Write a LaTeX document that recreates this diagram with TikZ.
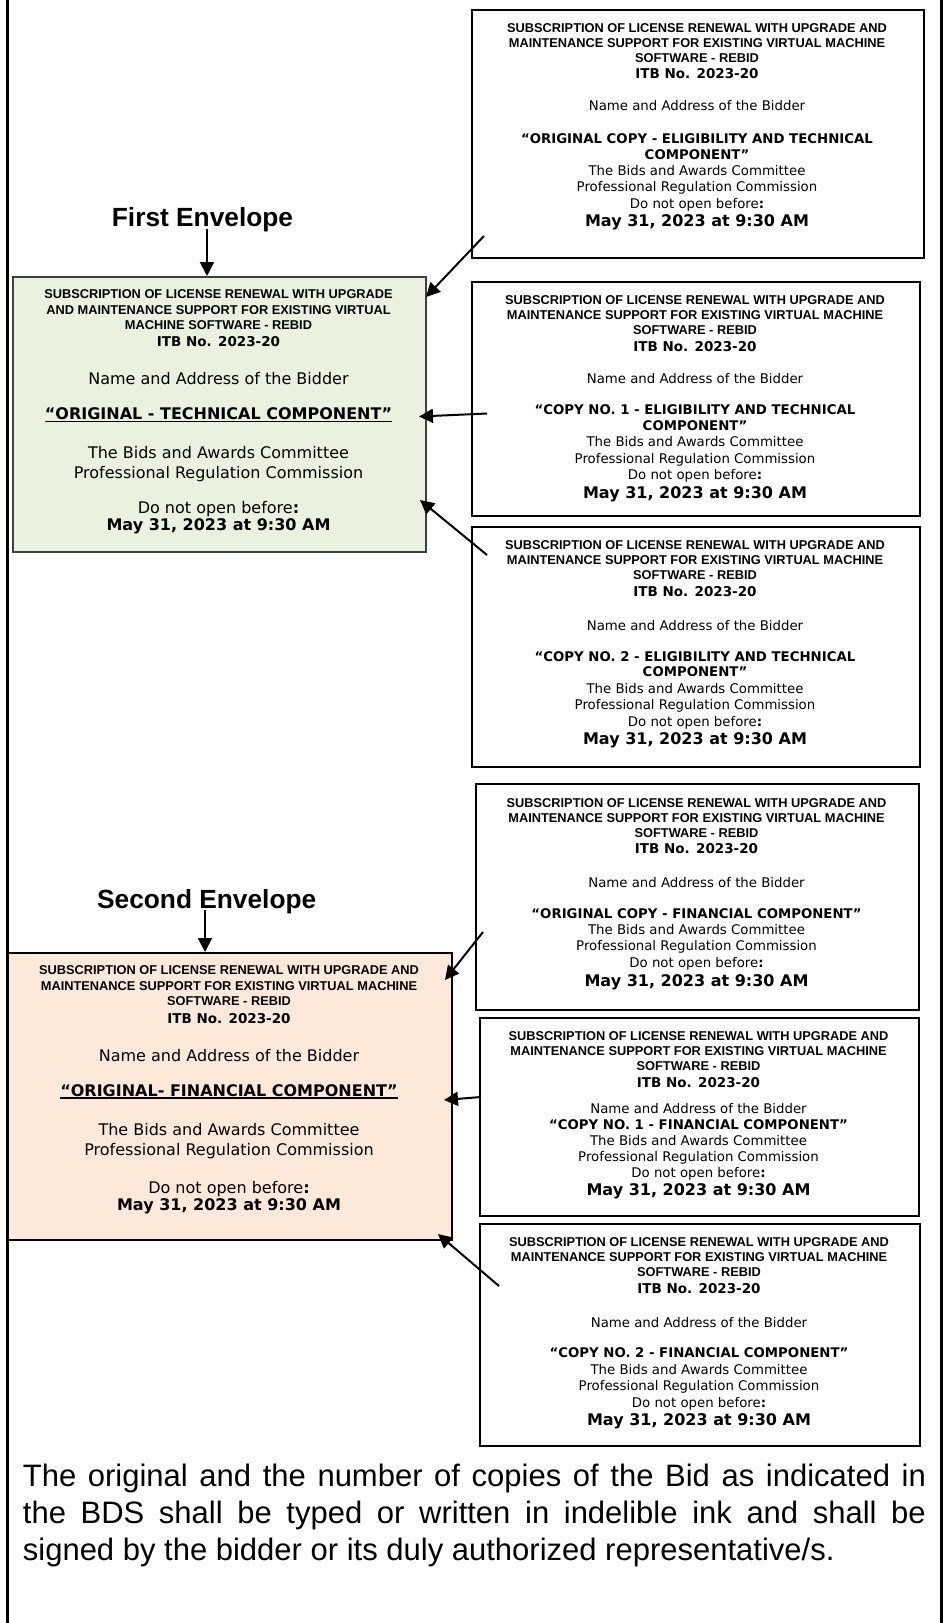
\documentclass[tikz,border=0pt]{standalone}
\usepackage{fontspec}
\setmainfont{DejaVu Sans}
\newfontfamily\arialf{Liberation Sans}
\newfontfamily\verd{DejaVu Sans}
\usetikzlibrary{arrows.meta}
\definecolor{gfill}{HTML}{EBF1DE}
\definecolor{ofill}{HTML}{FDE9D9}
\definecolor{gborder}{HTML}{3F3F3F}
\newsavebox\ulbox
\newcommand\HL[2]{{\arialf\bfseries\fontsize{12.8}{#1}\selectfont #2\par}}
\newcommand\BL[3]{{\verd\bfseries\fontsize{#1}{#2}\selectfont #3\par}}
\newcommand\RL[3]{{\verd\fontsize{#1}{#2}\selectfont #3\par}}
\newcommand\boxtext[2]{\parbox[t]{#1}{\centering\lineskiplimit=-100pt\lineskip=0pt\parskip=0pt #2}}
\newcommand\ulx[1]{\leavevmode\sbox\ulbox{#1}\rlap{\rule[-2.6pt]{\wd\ulbox}{1.4pt}}\usebox\ulbox}
\tikzset{
  rbox/.style={draw=black, line width=1.8pt, anchor=north west, inner sep=0pt},
  gbox/.style={draw=gborder, fill=gfill, line width=1.5pt, anchor=north west, inner sep=0pt},
  obox/.style={draw=black, fill=ofill, line width=2pt, anchor=north west, inner sep=0pt},
  tx/.style={inner sep=0pt, anchor=base},
  envlabel/.style={inner sep=0pt, anchor=base, font=\arialf\bfseries\fontsize{26.3}{30}\selectfont},
  arr/.style={-{Triangle[length=14pt,width=14pt]}, line width=2pt, black},
  frame/.style={line width=3pt, black}
}
\begin{document}
\begin{tikzpicture}[x=1pt,y=-1pt]
\useasboundingbox (0,0) rectangle (946,1623);
\fill[white] (0,0) rectangle (946,1623);

% right-hand boxes
\node[rbox, minimum width=452pt, minimum height=247.7pt] (r1) at (471,9.3) {};
\node[rbox, minimum width=448pt, minimum height=234pt] (r2) at (471,281) {};
\node[rbox, minimum width=448pt, minimum height=240pt] (r3) at (471,526) {};
\node[rbox, minimum width=443pt, minimum height=226pt] (r4) at (475,783.3) {};
\node[rbox, minimum width=439pt, minimum height=198pt] (r5) at (479,1017) {};
\node[rbox, minimum width=440pt, minimum height=222pt] (r6) at (479,1223) {};
% envelope boxes
\node[gbox, minimum width=413pt, minimum height=275pt] (g) at (12,276) {};
\node[obox, minimum width=444pt, minimum height=287pt] (o) at (7,952) {};

% texts of right boxes
\node[tx] (r1t) at (697,32.2) {\boxtext{440pt}{%
\HL{15}{SUBSCRIPTION OF LICENSE RENEWAL WITH UPGRADE AND}
\HL{15}{MAINTENANCE SUPPORT FOR EXISTING VIRTUAL MACHINE}
\HL{15}{SOFTWARE - REBID}
\BL{13.5}{16.7}{ITB No. 2023-20}
\RL{13.3}{32}{Name and Address of the Bidder}
\BL{13.3}{32.3}{“ORIGINAL COPY - ELIGIBILITY AND TECHNICAL}
\BL{13.3}{16.7}{COMPONENT”}
\RL{13.3}{16}{The Bids and Awards Committee}
\RL{13.3}{15.7}{Professional Regulation Commission}
\RL{13.3}{16.6}{Do not open before\textbf{:}}
\BL{16}{18.7}{May 31, 2023 at 9:30 AM}}};

\node[tx] (r2t) at (695,304.6) {\boxtext{440pt}{%
\HL{15}{SUBSCRIPTION OF LICENSE RENEWAL WITH UPGRADE AND}
\HL{15}{MAINTENANCE SUPPORT FOR EXISTING VIRTUAL MACHINE}
\HL{15}{SOFTWARE - REBID}
\BL{13.5}{16.8}{ITB No. 2023-20}
\RL{13.3}{32.3}{Name and Address of the Bidder}
\BL{13.3}{31.1}{“COPY NO. 1 - ELIGIBILITY AND TECHNICAL}
\BL{13.3}{15.5}{COMPONENT”}
\RL{13.3}{16.5}{The Bids and Awards Committee}
\RL{13.3}{16.6}{Professional Regulation Commission}
\RL{13.3}{16.5}{Do not open before\textbf{:}}
\BL{16}{18.7}{May 31, 2023 at 9:30 AM}}};

\node[tx] (r3t) at (695,549.6) {\boxtext{440pt}{%
\HL{15}{SUBSCRIPTION OF LICENSE RENEWAL WITH UPGRADE AND}
\HL{15}{MAINTENANCE SUPPORT FOR EXISTING VIRTUAL MACHINE}
\HL{15}{SOFTWARE - REBID}
\BL{13.5}{16.8}{ITB No. 2023-20}
\RL{13.3}{33.6}{Name and Address of the Bidder}
\BL{13.3}{31.1}{“COPY NO. 2 - ELIGIBILITY AND TECHNICAL}
\BL{13.3}{15.5}{COMPONENT”}
\RL{13.3}{16.6}{The Bids and Awards Committee}
\RL{13.3}{16.5}{Professional Regulation Commission}
\RL{13.3}{16.6}{Do not open before\textbf{:}}
\BL{16}{18.6}{May 31, 2023 at 9:30 AM}}};

\node[tx] (r4t) at (696.5,807.1) {\boxtext{440pt}{%
\HL{15}{SUBSCRIPTION OF LICENSE RENEWAL WITH UPGRADE AND}
\HL{15}{MAINTENANCE SUPPORT FOR EXISTING VIRTUAL MACHINE}
\HL{15}{SOFTWARE - REBID}
\BL{13.5}{16.8}{ITB No. 2023-20}
\RL{13.3}{33.3}{Name and Address of the Bidder}
\BL{13.3}{31.7}{“ORIGINAL COPY - FINANCIAL COMPONENT”}
\RL{13.3}{16}{The Bids and Awards Committee}
\RL{13.3}{16}{Professional Regulation Commission}
\RL{13.3}{16.7}{Do not open before\textbf{:}}
\BL{16}{19}{May 31, 2023 at 9:30 AM}}};

\node[tx] (r5t) at (698.5,1040.8) {\boxtext{436pt}{%
\HL{15}{SUBSCRIPTION OF LICENSE RENEWAL WITH UPGRADE AND}
\HL{15}{MAINTENANCE SUPPORT FOR EXISTING VIRTUAL MACHINE}
\HL{15}{SOFTWARE - REBID}
\BL{13.5}{16.8}{ITB No. 2023-20}
\RL{13.3}{25.6}{Name and Address of the Bidder}
\BL{13.3}{16.2}{“COPY NO. 1 - FINANCIAL COMPONENT”}
\RL{13.3}{16.5}{The Bids and Awards Committee}
\RL{13.3}{16}{Professional Regulation Commission}
\RL{13.3}{16}{Do not open before\textbf{:}}
\BL{16}{18}{May 31, 2023 at 9:30 AM}}};

\node[tx] (r6t) at (699,1246.6) {\boxtext{436pt}{%
\HL{15}{SUBSCRIPTION OF LICENSE RENEWAL WITH UPGRADE AND}
\HL{15}{MAINTENANCE SUPPORT FOR EXISTING VIRTUAL MACHINE}
\HL{15}{SOFTWARE - REBID}
\BL{13.5}{16.8}{ITB No. 2023-20}
\RL{13.3}{34.2}{Name and Address of the Bidder}
\BL{13.3}{30}{“COPY NO. 2 - FINANCIAL COMPONENT”}
\RL{13.3}{16.6}{The Bids and Awards Committee}
\RL{13.3}{16.6}{Professional Regulation Commission}
\RL{13.3}{16.5}{Do not open before\textbf{:}}
\BL{16}{18.6}{May 31, 2023 at 9:30 AM}}};

% texts of envelope boxes
\node[tx] (gt) at (218.5,298.6) {\boxtext{410pt}{%
\HL{15.6}{SUBSCRIPTION OF LICENSE RENEWAL WITH UPGRADE}
\HL{15.6}{AND MAINTENANCE SUPPORT FOR EXISTING VIRTUAL}
\HL{15.6}{MACHINE SOFTWARE - REBID}
\BL{13.5}{17}{ITB No. 2023-20}
\RL{16}{37.9}{Name and Address of the Bidder}
\BL{16}{35}{\ulx{“ORIGINAL - TECHNICAL COMPONENT”}}
\RL{16}{39}{The Bids and Awards Committee}
\RL{16}{20}{Professional Regulation Commission}
\RL{16}{35}{Do not open before\textbf{:}}
\BL{16}{17}{May 31, 2023 at 9:30 AM}}};

\node[tx] (ot) at (229,974.6) {\boxtext{440pt}{%
\HL{15.6}{SUBSCRIPTION OF LICENSE RENEWAL WITH UPGRADE AND}
\HL{15.6}{MAINTENANCE SUPPORT FOR EXISTING VIRTUAL MACHINE}
\HL{15.6}{SOFTWARE - REBID}
\BL{13.5}{17.3}{ITB No. 2023-20}
\RL{16}{37.9}{Name and Address of the Bidder}
\BL{16}{35}{\ulx{“ORIGINAL- FINANCIAL COMPONENT”}}
\RL{16}{39.3}{The Bids and Awards Committee}
\RL{16}{20.2}{Professional Regulation Commission}
\RL{16}{37.5}{Do not open before\textbf{:}}
\BL{16}{17}{May 31, 2023 at 9:30 AM}}};

% envelope labels
\node[envlabel] (fe) at (202.5,226.7) {First Envelope};
\node[envlabel] (se) at (206.7,908.3) {Second Envelope};

% connectors
\coordinate (fes) at (207,229);
\coordinate (ses) at (205,910);
\draw[arr] (fes) -- (fes |- g.north);
\draw[arr] (ses) -- (ses |- o.north);

\coordinate (a1s) at (484,236);   \coordinate (a1e) at (426,297);
\coordinate (a2s) at (487,413.5); \coordinate (a2e) at (419,416.5);
\coordinate (a3s) at (487,555);   \coordinate (a3e) at (420,500);
\coordinate (a4s) at (483,932);   \coordinate (a4e) at (445,980);
\coordinate (a5s) at (481,1097);  \coordinate (a5e) at (444,1100);
\coordinate (a6s) at (499,1286);  \coordinate (a6e) at (438,1234);
\draw[arr] (a1s) -- (a1e);
\draw[arr] (a2s) -- (a2e);
\draw[arr] (a3s) -- (a3e);
\draw[arr] (a4s) -- (a4e);
\draw[arr] (a5s) -- (a5e);
\draw[arr] (a6s) -- (a6e);

% bottom paragraph
\node[inner sep=0pt, anchor=base west] (para) at (22.7,1486) {\parbox[t]{903pt}{\arialf\fontsize{31}{37}\selectfont
The original and the number of copies of the Bid as indicated in\linebreak
the BDS shall be typed or written in indelible ink and shall be\linebreak
signed by the bidder or its duly authorized representative/s.}};

% outer frame lines
\draw[frame] (7,0) -- (7,1623);
\draw[frame] (941.5,0) -- (941.5,1623);
\end{tikzpicture}
\end{document}
